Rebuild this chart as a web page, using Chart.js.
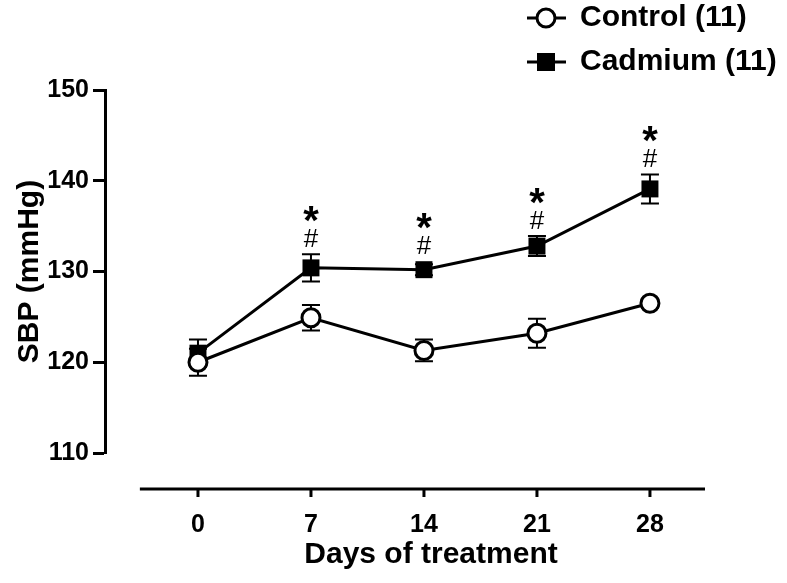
<!DOCTYPE html>
<html>
<head>
<meta charset="utf-8">
<script src="https://cdn.jsdelivr.net/npm/chart.js@4.4.1/dist/chart.umd.min.js"></script>
<style>
  html, body { margin: 0; padding: 0; background: #fff; }
  #wrap { width: 787px; height: 583px; }
</style>
</head>
<body>
<div id="wrap"><canvas id="myChart" width="787" height="583"></canvas></div>
<script>
// data
var days = [0, 7, 14, 21, 28];
var controlMean = [120.0, 124.9, 121.3, 123.2, 126.5];
var controlSem = [1.5, 1.4, 1.2, 1.6, 0.5];
var cadmiumMean = [121.0, 130.4, 130.2, 132.8, 139.1];
var cadmiumSem = [1.5, 1.5, 0.6, 1.1, 1.6];
var starMarks = ['', '*', '*', '*', '*'];
var hashMarks = ['', '#', '#', '#', '#'];
var yTicks = [110, 120, 130, 140, 150];
var seriesNames = ['Control (11)', 'Cadmium (11)'];
var xTitle = 'Days of treatment';
var yTitle = 'SBP (mmHg)';

var fontFam = "'Liberation Sans', Arial, sans-serif";

function pts(means){
	var out = [];
	for(var i=0;i<days.length;i++) out.push({x: days[i], y: means[i]});
	return out;
}

// error bars, drawn under the markers
var errorBars = {
	id: 'errorBars',
	beforeDatasetsDraw: function(chart){
		var ctx = chart.ctx, xs = chart.scales.x, ys = chart.scales.y;
		var sets = [[controlMean, controlSem], [cadmiumMean, cadmiumSem]];
		ctx.save();
		ctx.strokeStyle = '#000';
		ctx.lineWidth = 2;
		sets.forEach(function(s){
			for(var i=0;i<days.length;i++){
				var x = xs.getPixelForValue(days[i]);
				var y1 = ys.getPixelForValue(s[0][i] + s[1][i]);
				var y2 = ys.getPixelForValue(s[0][i] - s[1][i]);
				ctx.beginPath();
				ctx.moveTo(x, y1); ctx.lineTo(x, y2);
				ctx.moveTo(x-9, y1); ctx.lineTo(x+9, y1);
				ctx.moveTo(x-9, y2); ctx.lineTo(x+9, y2);
				ctx.stroke();
			}
		});
		ctx.restore();
	}
};

// detached x axis, significance marks, legend, x title
var extras = {
	id: 'extras',
	afterDraw: function(chart){
		var ctx = chart.ctx, xs = chart.scales.x, ys = chart.scales.y;
		var ca = chart.chartArea;
		var axY = ca.bottom + 36;
		ctx.save();
		ctx.strokeStyle = '#000';
		ctx.fillStyle = '#000';
		ctx.lineWidth = 3;
		ctx.beginPath();
		ctx.moveTo(xs.getPixelForValue(-3.6), axY);
		ctx.lineTo(ca.right, axY);
		for(var i=0;i<days.length;i++){
			var tx = xs.getPixelForValue(days[i]);
			ctx.moveTo(tx, axY);
			ctx.lineTo(tx, axY+8);
		}
		ctx.stroke();

		// * and # above cadmium points
		ctx.textAlign = 'center';
		ctx.textBaseline = 'alphabetic';
		for(var j=0;j<days.length;j++){
			var px = xs.getPixelForValue(days[j]);
			var top = Math.min(ys.getPixelForValue(cadmiumMean[j] + cadmiumSem[j]), ys.getPixelForValue(cadmiumMean[j]) - 9);
			ctx.font = '400 26px ' + fontFam;
			ctx.fillText(hashMarks[j], px, top - 16 + 9);
			ctx.font = 'bold 40px ' + fontFam;
			ctx.fillText(starMarks[j], px, top - 41 + 21);
		}

		// legend
		var legY = [18, 62];
		chart.data.datasets.forEach(function(ds, k){
			var y = legY[k];
			ctx.lineWidth = 3;
			ctx.beginPath();
			ctx.moveTo(527, y); ctx.lineTo(566, y);
			ctx.stroke();
			if(k==0){
				ctx.fillStyle = '#fff';
				ctx.beginPath();
				ctx.arc(546, y, 9, 0, Math.PI*2);
				ctx.fill(); ctx.stroke();
			} else {
				ctx.fillStyle = '#000';
				ctx.fillRect(546-9, y-9, 18, 18);
			}
			ctx.fillStyle = '#000';
			ctx.font = 'bold 30px ' + fontFam;
			ctx.textAlign = 'left';
			ctx.textBaseline = 'middle';
			ctx.fillText(ds.label, 580, y);
		});

		ctx.textAlign = 'center';
		ctx.textBaseline = 'middle';
		ctx.font = 'bold 30px ' + fontFam;
		ctx.fillText(xTitle, 431, 555);
		ctx.restore();
	}
};

var ctx = document.getElementById('myChart');
var myChart = new Chart(ctx, {
	type: 'line',
	data: {
		datasets: [
			{
				label: seriesNames[0],
				data: pts(controlMean),
				borderColor: '#000',
				borderWidth: 3,
				pointStyle: 'circle',
				pointRadius: 9,
				pointBorderWidth: 3,
				pointBackgroundColor: '#fff',
				pointBorderColor: '#000',
				tension: 0
			},
			{
				label: seriesNames[1],
				data: pts(cadmiumMean),
				borderColor: '#000',
				borderWidth: 3,
				pointStyle: 'rect',
				pointRadius: 12,
				pointBorderWidth: 0,
				pointBackgroundColor: '#000',
				pointBorderColor: '#000',
				tension: 0
			}
		]
	},
	options: {
		responsive: false,
		animation: false,
		layout: { padding: { left: 0, top: 90, right: 82, bottom: 0 } },
		plugins: {
			legend: { display: false },
			tooltip: { enabled: false }
		},
		scales: {
			x: {
				type: 'linear',
				min: -5.76,
				max: 31.41,
				grid: { display: false },
				border: { display: false },
				afterBuildTicks: function(scale){
					scale.ticks = days.map(function(d){ return {value: d}; });
				},
				afterFit: function(scale){ scale.height = 130; },
				ticks: {
					color: '#000',
					padding: 49,
					maxRotation: 0,
					font: { family: fontFam, size: 25, weight: 'bold' }
				}
			},
			y: {
				min: 110,
				max: 150,
				afterBuildTicks: function(scale){
					scale.ticks = yTicks.map(function(v){ return {value: v}; });
				},
				afterFit: function(scale){ scale.width = 105; },
				grid: {
					drawOnChartArea: false,
					drawTicks: true,
					tickLength: 12,
					tickWidth: 3,
					tickColor: '#000'
				},
				border: { display: true, color: '#000', width: 3 },
				ticks: {
					color: '#000',
					padding: 4,
					font: { family: fontFam, size: 25, weight: 'bold' }
				},
				title: {
					display: true,
					text: yTitle,
					color: '#000',
					padding: { top: 12, bottom: 0 },
					font: { family: fontFam, size: 30, weight: 'bold' }
				}
			}
		}
	},
	plugins: [errorBars, extras]
});
</script>
</body>
</html>
